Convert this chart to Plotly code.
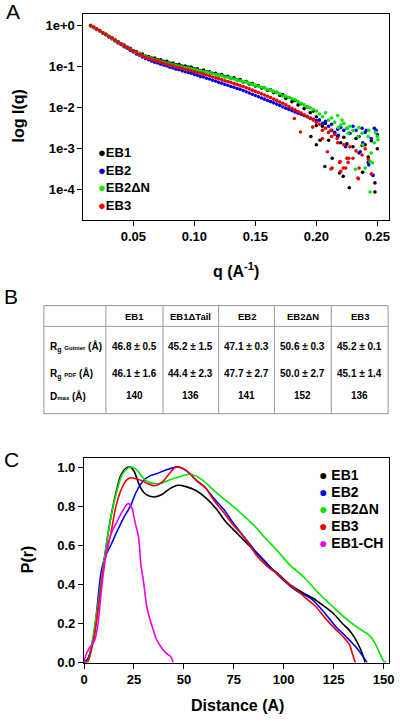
import plotly.graph_objects as go

FONT = "Liberation Sans, Arial, sans-serif"
W, H = 400, 723

def fx(x):
    return x / W

def fy(y):
    return 1 - y / H

Q_LOW = [0.015, 0.0175, 0.02, 0.0225, 0.025, 0.0275, 0.03, 0.0325, 0.035, 0.0375,
         0.04, 0.0425, 0.045, 0.0475, 0.05, 0.0525, 0.055, 0.0575, 0.06, 0.0625,
         0.065, 0.0675, 0.07, 0.0725, 0.075, 0.0775, 0.08, 0.0825, 0.085, 0.0875,
         0.09, 0.0925, 0.095, 0.0975, 0.1, 0.1025, 0.105, 0.1075, 0.11, 0.1125,
         0.115, 0.1175, 0.12, 0.1225, 0.125, 0.1275, 0.13, 0.1325, 0.135, 0.1375,
         0.14, 0.1425, 0.145, 0.1475, 0.15, 0.1525, 0.155, 0.1575, 0.16, 0.1625,
         0.165, 0.1675, 0.17, 0.1725, 0.175, 0.1775, 0.18, 0.1825, 0.185, 0.1875,
         0.19, 0.1925, 0.195, 0.1975, 0.2]

EB1_LOW = [0.00, -0.04, -0.09, -0.12, -0.17, -0.21, -0.27, -0.30, -0.35, -0.39,
           -0.45, -0.47, -0.52, -0.55, -0.61, -0.63, -0.67, -0.69, -0.74, -0.75,
           -0.79, -0.79, -0.83, -0.83, -0.87, -0.87, -0.91, -0.91, -0.95, -0.94,
           -0.98, -0.98, -1.01, -1.01, -1.05, -1.05, -1.09, -1.08, -1.12, -1.12,
           -1.16, -1.16, -1.20, -1.19, -1.24, -1.23, -1.28, -1.27, -1.32, -1.31,
           -1.37, -1.36, -1.42, -1.41, -1.47, -1.46, -1.52, -1.51, -1.57, -1.56,
           -1.63, -1.62, -1.70, -1.68, -1.77, -1.75, -1.85, -1.82, -1.93, -1.90,
           -2.02, -1.98, -2.12, -2.08, -2.22]
EB2_LOW = [0.00, -0.05, -0.09, -0.13, -0.18, -0.22, -0.27, -0.32, -0.37, -0.42,
           -0.46, -0.51, -0.55, -0.60, -0.64, -0.69, -0.72, -0.76, -0.80, -0.83,
           -0.86, -0.89, -0.91, -0.94, -0.96, -0.98, -1.01, -1.03, -1.06, -1.07,
           -1.10, -1.12, -1.14, -1.16, -1.19, -1.21, -1.24, -1.25, -1.28, -1.30,
           -1.33, -1.35, -1.38, -1.40, -1.43, -1.45, -1.48, -1.50, -1.53, -1.55,
           -1.58, -1.61, -1.64, -1.67, -1.70, -1.73, -1.76, -1.79, -1.82, -1.85,
           -1.88, -1.91, -1.94, -1.98, -2.01, -2.04, -2.07, -2.10, -2.13, -2.16,
           -2.19, -2.22, -2.25, -2.28, -2.31]
EB2DN_LOW = [0.00, -0.05, -0.08, -0.13, -0.18, -0.22, -0.26, -0.31, -0.36, -0.40,
             -0.44, -0.49, -0.53, -0.57, -0.61, -0.65, -0.68, -0.72, -0.75, -0.78,
             -0.80, -0.83, -0.85, -0.87, -0.89, -0.91, -0.93, -0.95, -0.97, -0.98,
             -1.00, -1.02, -1.03, -1.05, -1.07, -1.08, -1.10, -1.12, -1.13, -1.15,
             -1.17, -1.19, -1.21, -1.22, -1.25, -1.26, -1.28, -1.30, -1.32, -1.34,
             -1.36, -1.37, -1.40, -1.43, -1.45, -1.47, -1.50, -1.51, -1.55, -1.57,
             -1.60, -1.63, -1.66, -1.71, -1.72, -1.75, -1.78, -1.80, -1.85, -1.89,
             -1.93, -1.99, -2.00, -2.04, -2.08]
EB3_LOW = [0.01, -0.03, -0.08, -0.12, -0.17, -0.21, -0.26, -0.30, -0.35, -0.40,
           -0.44, -0.49, -0.53, -0.58, -0.62, -0.66, -0.70, -0.73, -0.77, -0.80,
           -0.82, -0.85, -0.87, -0.89, -0.92, -0.94, -0.96, -0.98, -1.00, -1.02,
           -1.04, -1.06, -1.08, -1.10, -1.12, -1.14, -1.16, -1.18, -1.20, -1.22,
           -1.25, -1.27, -1.29, -1.31, -1.34, -1.36, -1.38, -1.41, -1.43, -1.46,
           -1.48, -1.51, -1.54, -1.57, -1.60, -1.63, -1.66, -1.69, -1.72, -1.75,
           -1.79, -1.82, -1.86, -1.89, -1.93, -1.97, -2.01, -2.05, -2.09, -2.13,
           -2.17, -2.21, -2.26, -2.30, -2.35]

EB1_HIGH_Q = [0.1955, 0.2, 0.2, 0.2025, 0.203, 0.205, 0.207, 0.2075, 0.21, 0.2125,
              0.213, 0.215, 0.2175, 0.219, 0.22, 0.222, 0.2225, 0.225, 0.227, 0.23,
              0.2325, 0.235, 0.2375, 0.238, 0.24, 0.2425, 0.245, 0.248, 0.248, 0.25]
EB1_HIGH = [-2.70, -2.43, -2.90, -2.30, -2.79, -2.45, -3.43, -2.38, -2.79, -2.55,
            -3.23, -2.62, -2.70, -3.59, -2.85, -3.67, -2.72, -2.88, -3.95, -2.95,
            -2.75, -3.10, -2.92, -3.57, -2.90, -3.20, -2.80, -3.83, -4.05, -3.00]
EB2_HIGH_Q = [0.2025, 0.205, 0.2075, 0.21, 0.2125, 0.215, 0.2175, 0.218, 0.22, 0.2225,
              0.224, 0.225, 0.2275, 0.23, 0.2325, 0.235, 0.236, 0.2375, 0.238, 0.24,
              0.241, 0.2425, 0.243, 0.245, 0.246, 0.2465, 0.2475, 0.249, 0.25]
EB2_HIGH = [-2.30, -2.38, -2.33, -2.45, -2.40, -2.60, -2.52, -2.67, -2.48, -2.55,
            -2.95, -2.50, -2.62, -2.45, -2.55, -2.70, -3.07, -2.50, -2.85, -2.60,
            -2.55, -3.33, -3.39, -2.75, -3.63, -3.65, -2.50, -2.55, -2.65]
EB2DN_HIGH_Q = [0.2025, 0.205, 0.2075, 0.21, 0.2125, 0.215, 0.2175, 0.218, 0.22, 0.221,
                0.2225, 0.225, 0.226, 0.2275, 0.23, 0.232, 0.234, 0.235, 0.2375, 0.238,
                0.24, 0.2425, 0.243, 0.244, 0.244, 0.245, 0.246, 0.2475, 0.2485, 0.25, 0.2505]
EB2DN_HIGH = [-2.15, -2.22, -2.12, -2.30, -2.25, -2.35, -2.19, -2.48, -2.42, -2.30,
              -2.38, -2.50, -2.62, -2.45, -2.55, -3.50, -2.70, -2.48, -2.62, -2.90,
              -3.47, -2.70, -2.55, -3.30, -4.05, -3.10, -3.34, -2.85, -2.60, -2.70, -2.78]
EB3_HIGH_Q = [0.182, 0.187, 0.197, 0.2025, 0.205, 0.205, 0.2075, 0.209, 0.21, 0.212,
              0.212, 0.2125, 0.213, 0.215, 0.217, 0.2175, 0.219, 0.2195, 0.22, 0.222,
              0.2225, 0.224, 0.225, 0.226, 0.2265, 0.2275, 0.23, 0.2325, 0.234, 0.2345,
              0.235, 0.2375, 0.24, 0.2425, 0.245]
EB3_HIGH = [-2.26, -2.59, -2.47, -2.40, -2.75, -2.55, -2.50, -3.07, -2.60, -3.49,
            -2.55, -2.70, -3.47, -2.65, -2.75, -2.85, -3.33, -3.31, -3.55, -3.47,
            -2.90, -3.47, -3.23, -3.33, -3.23, -2.95, -3.23, -3.05, -3.71, -3.73,
            -3.47, -3.15, -3.00, -3.25, -3.61]

A_SERIES = [
    ("EB1", "#000000", EB1_LOW, EB1_HIGH_Q, EB1_HIGH),
    ("EB2", "#0000ee", EB2_LOW, EB2_HIGH_Q, EB2_HIGH),
    ("EB2ΔN", "#00e600", EB2DN_LOW, EB2DN_HIGH_Q, EB2DN_HIGH),
    ("EB3", "#ee0000", EB3_LOW, EB3_HIGH_Q, EB3_HIGH),
]
A_YTICKS = [1, 0.1, 0.01, 0.001, 0.0001]
A_YTICKTEXT = ["1e+0", "1e-1", "1e-2", "1e-3", "1e-4"]
A_XTICKS = [0.05, 0.10, 0.15, 0.20, 0.25]
A_XTICKTEXT = ["0.05", "0.10", "0.15", "0.20", "0.25"]

# ---------------- Panel B table ----------------
TABLE_HEADER = ["", "EB1", "EB1ΔTail", "EB2", "EB2ΔN", "EB3"]
ROW_LABELS = ["R<sub>g</sub> <span style='font-size:6px'>Guinier</span> (Å)",
              "R<sub>g</sub> <span style='font-size:6px'>PDF</span> (Å)",
              "D<span style='font-size:6px'>max</span> (Å)"]
RG_GUINIER = ["46.8 ± 0.5", "45.2 ± 1.5", "47.1 ± 0.3", "50.6 ± 0.3", "45.2 ± 0.1"]
RG_PDF = ["46.1 ± 1.6", "44.4 ± 2.3", "47.7 ± 2.7", "50.0 ± 2.7", "45.1 ± 1.4"]
DMAX = ["140", "136", "141", "152", "136"]

# ---------------- Panel C data ----------------
EB1_R = [0, 2, 5, 8, 10, 13, 16, 18.5, 21, 23, 25, 28, 31, 35, 39, 43, 47, 51, 56, 61,
         66, 71, 77, 85, 93, 97, 103, 110, 114.7, 120, 125, 129.4, 132.5, 135, 137.5, 139.2, 140.8]
EB1_P = [0, 0.02, 0.14, 0.36, 0.52, 0.72, 0.87, 0.96, 0.995, 1.0, 0.98, 0.90, 0.86, 0.847, 0.86,
         0.89, 0.907, 0.90, 0.88, 0.843, 0.79, 0.72, 0.658, 0.575, 0.49, 0.456, 0.40, 0.355, 0.329,
         0.29, 0.25, 0.20, 0.17, 0.135, 0.09, 0.05, 0.0]
EB2_R = [0, 2, 5, 8.5, 10.5, 13.4, 16, 19.9, 23.2, 26, 29.7, 33, 36.3, 41, 46, 49, 52.6, 56,
         60.8, 65, 70.6, 75, 80.4, 85, 90.2, 95, 100, 106, 114, 120, 126, 131, 137, 141.8]
EB2_P = [0, 0.02, 0.15, 0.46, 0.54, 0.60, 0.66, 0.742, 0.80, 0.87, 0.93, 0.955, 0.966, 0.985, 1.0,
         0.995, 0.97, 0.935, 0.894, 0.84, 0.776, 0.71, 0.64, 0.58, 0.523, 0.47, 0.42, 0.37, 0.325,
         0.26, 0.185, 0.135, 0.07, 0.0]
EB2DN_R = [0, 1.7, 4, 7, 10, 13, 16, 19, 22, 24, 26.5, 29.7, 32, 34.6, 37, 39.5, 43, 46, 50,
           53, 56, 59, 63, 67.3, 71, 75.5, 80, 85.3, 90, 96.7, 103, 110, 117, 124.5, 130, 136,
           140, 142.5, 145.7, 148, 150, 151.2]
EB2DN_P = [0, 0.0, 0.10, 0.30, 0.52, 0.72, 0.86, 0.96, 0.995, 1.0, 0.985, 0.944, 0.925, 0.917,
           0.915, 0.92, 0.935, 0.945, 0.958, 0.963, 0.955, 0.936, 0.90, 0.86, 0.83, 0.793, 0.75,
           0.70, 0.645, 0.573, 0.50, 0.438, 0.36, 0.287, 0.235, 0.186, 0.16, 0.143, 0.10, 0.05,
           0.01, 0.0]
EB3_R = [0, 2, 5, 8, 10, 13.4, 16, 18.3, 21, 23.2, 26, 29.7, 32, 34.6, 37, 39.5, 43, 46, 49,
         52.6, 56, 60.8, 65, 70.6, 75, 78.8, 83, 87, 92, 96.7, 101, 106.5, 111, 116, 121, 126,
         129, 131, 133, 134.3, 135.5, 136]
EB3_P = [0, 0.01, 0.13, 0.35, 0.50, 0.66, 0.80, 0.877, 0.93, 0.945, 0.94, 0.927, 0.915, 0.905,
         0.91, 0.927, 0.97, 1.0, 0.995, 0.97, 0.935, 0.894, 0.83, 0.759, 0.70, 0.658, 0.60, 0.54,
         0.49, 0.455, 0.415, 0.371, 0.33, 0.287, 0.225, 0.17, 0.14, 0.118, 0.09, 0.05, 0.01, 0.0]
EB1CH_R = [0, 1, 2.7, 5.2, 7, 9, 11.8, 14, 16.7, 19, 21.6, 22.5, 24, 25.5, 27.3, 28.5, 29.7,
           31.4, 32.5, 34.6, 36.3, 39.5, 41.5, 43, 44, 44.5]
EB1CH_P = [0, 0.04, 0.076, 0.11, 0.20, 0.40, 0.60, 0.67, 0.725, 0.77, 0.81, 0.813, 0.79, 0.72,
           0.64, 0.50, 0.42, 0.287, 0.24, 0.169, 0.118, 0.067, 0.045, 0.035, 0.02, 0.0]

C_SERIES = [
    ("EB1", "#000000", EB1_R, EB1_P),
    ("EB2", "#0000ee", EB2_R, EB2_P),
    ("EB2ΔN", "#00e600", EB2DN_R, EB2DN_P),
    ("EB3", "#ee0000", EB3_R, EB3_P),
    ("EB1-CH", "#ee00ee", EB1CH_R, EB1CH_P),
]
C_XTICKS = [0, 25, 50, 75, 100, 125, 150]
C_YTICKS = [0, 0.2, 0.4, 0.6, 0.8, 1.0]

fig = go.Figure()

for name, color, low, hq, hv in A_SERIES:
    qs = Q_LOW + hq
    vals = low + hv
    fig.add_trace(go.Scatter(
        x=qs, y=[10 ** v for v in vals], mode="markers", name=name,
        marker=dict(color=color, size=3.6, line=dict(width=0)),
        xaxis="x", yaxis="y", showlegend=False))

for name, color, r, p in C_SERIES:
    fig.add_trace(go.Scatter(
        x=r, y=p, mode="lines", name=name,
        line=dict(color=color, width=1.6, shape="spline", smoothing=0.8),
        xaxis="x2", yaxis="y2", showlegend=False))

tickfont = dict(family=FONT, size=13, color="#000", weight="bold")
axis_common = dict(showline=True, linecolor="#000", linewidth=1, mirror=True,
                   ticks="outside", ticklen=5, tickcolor="#000", showgrid=False,
                   zeroline=False, tickfont=tickfont)

fig.update_layout(
    width=W, height=H, margin=dict(l=0, r=0, t=0, b=0),
    paper_bgcolor="white", plot_bgcolor="white",
    xaxis=dict(domain=[fx(82), fx(394)], range=[0.00904, 0.25964], tickvals=A_XTICKS,
               ticktext=A_XTICKTEXT, anchor="y", **axis_common),
    yaxis=dict(domain=[fy(222), fy(14)], type="log", range=[-4.723, 0.289], tickvals=A_YTICKS,
               ticktext=A_YTICKTEXT, anchor="x", **axis_common),
    xaxis2=dict(domain=[fx(82.5), fx(394)], range=[-0.1, 152.8], tickvals=C_XTICKS,
                anchor="y2", **axis_common),
    yaxis2=dict(domain=[fy(670), fy(462.7)], range=[0, 1.0486], tickvals=C_YTICKS,
                tickformat=".1f", anchor="x2", **axis_common),
)

ann = []
def text(x, y, s, size, bold=True, xanchor="center", yanchor="middle", angle=0, color="#000"):
    ann.append(dict(x=fx(x), y=fy(y), xref="paper", yref="paper", text=s, showarrow=False,
                    xanchor=xanchor, yanchor=yanchor, textangle=angle,
                    font=dict(family=FONT, size=size, color=color, weight="bold" if bold else "normal")))

# panel labels
text(10, 12, "A", 21, bold=False)
text(8, 300, "B", 21, bold=False)
text(9, 465, "C", 21, bold=False)

# axis titles
text(16, 117, "log I(q)", 16, angle=-90)
text(238, 273, "q (A<sup>-1</sup>)", 16)
text(25, 566, "P(r)", 16, angle=-90)
text(239, 713, "Distance (A)", 16)

# legends
for i, (name, color, *_rest) in enumerate(A_SERIES):
    text(95, 154 + i * 18, f"<span style='color:{color}'>●</span>{name}", 13, xanchor="left")
for i, (name, color, *_rest) in enumerate(C_SERIES):
    text(320, 480 + i * 17.2, f"<span style='color:{color}'>●</span> {name}", 14, xanchor="left")

# table
COL_EDGES = [41.7, 105, 163.3, 220, 277, 335, 393]
ROW_Y = [320, 350.7, 377.7, 400]
TOP, HDR, BOT = 309, 330, 418.3
shapes = []
line_style = dict(color="#9a9a9a", width=1)
for x in COL_EDGES:
    shapes.append(dict(type="line", xref="paper", yref="paper", x0=fx(x), x1=fx(x),
                       y0=fy(TOP), y1=fy(BOT), line=line_style))
for y in (TOP, HDR, BOT):
    shapes.append(dict(type="line", xref="paper", yref="paper", x0=fx(COL_EDGES[0]),
                       x1=fx(COL_EDGES[-1]), y0=fy(y), y1=fy(y), line=line_style))
fig.update_layout(shapes=shapes)

for j, h in enumerate(TABLE_HEADER):
    if h:
        text((COL_EDGES[j] + COL_EDGES[j + 1]) / 2, ROW_Y[0], h, 9.5)
for i, (lab, vals) in enumerate(zip(ROW_LABELS, [RG_GUINIER, RG_PDF, DMAX])):
    text(COL_EDGES[0] + 4, ROW_Y[i + 1], lab, 10, xanchor="left")
    for j, v in enumerate(vals):
        text((COL_EDGES[j + 1] + COL_EDGES[j + 2]) / 2, ROW_Y[i + 1], v, 10)

fig.update_layout(annotations=ann)
fig.write_html("out.html", config={"displayModeBar": False},
               post_script="document.body.style.margin='0';document.body.style.padding='0';"
                           "document.body.style.overflow='hidden';")
